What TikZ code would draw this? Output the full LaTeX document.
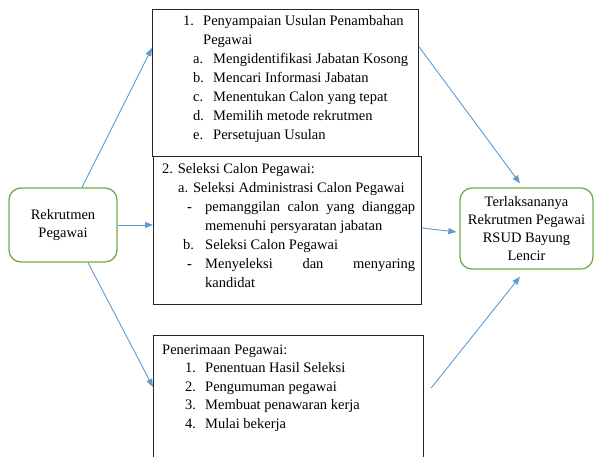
\documentclass[tikz,border=0pt]{standalone}
\usepackage{fontspec}
\setmainfont{Liberation Serif}
\usetikzlibrary{arrows.meta, calc}
\definecolor{panahbiru}{RGB}{91,155,213}
\definecolor{hijau}{RGB}{112,173,71}
\newcommand{\butir}[3]{\hspace*{#1pt}\makebox[#2pt][l]{#3}}

\begin{document}
\begin{tikzpicture}[x=1pt, y=-1pt,
  kotak/.style={draw=black!85, line width=1.2pt, inner sep=0pt, anchor=north west},
  isi/.style={align=left, inner sep=0pt, anchor=north west, font=\fontsize{14.5}{19}\selectfont},
  ujung/.style={draw=hijau, line width=1.3pt, rounded corners=12pt, align=center, inner sep=0pt, font=\fontsize{14.5}{18}\selectfont},
  panah/.style={-{Triangle[length=8pt, width=6pt]}, panahbiru, line width=0.9pt}]
\useasboundingbox (0,0) rectangle (595,457);
\clip (0,0) rectangle (595,457);

% MIDDLE: three stage boxes
\node[kotak, minimum width=266pt, minimum height=147pt] (usul) at (152,9) {};
\node[isi] (usulisi) at (162,15.5) {%
  \butir{21}{20}{1.}Penyampaian Usulan Penambahan\\
  \hspace*{41pt}Pegawai\\
  \butir{31}{20}{a.}Mengidentifikasi Jabatan Kosong\\
  \butir{31}{20}{b.}Mencari Informasi Jabatan\\
  \butir{31}{20}{c.}Menentukan Calon yang tepat\\
  \butir{31}{20}{d.}Memilih metode rekrutmen\\
  \butir{31}{20}{e.}Persetujuan Usulan};

\node[kotak, minimum width=268pt, minimum height=148pt] (seleksi) at (153,156) {};
\node[isi] (seleksiisi) at (162,163.5) {%
  2. Seleksi Calon Pegawai:\\
  \hspace*{16pt}a. Seleksi Administrasi Calon Pegawai\\
  \butir{25}{18}{\textbf{-}}\makebox[210pt][s]{pemanggilan calon yang dianggap}\\
  \hspace*{43pt}memenuhi persyaratan jabatan\\
  \butir{21}{22}{b.}Seleksi Calon Pegawai\\
  \butir{25}{18}{\textbf{-}}\makebox[210pt][s]{Menyeleksi dan menyaring}\\
  \hspace*{43pt}kandidat};

\node[kotak, minimum width=270pt, minimum height=140pt] (terima) at (153,335) {};
\node[isi, font=\fontsize{14.5}{18.5}\selectfont] (terimaisi) at (162,344.5) {%
  Penerimaan Pegawai:\\
  \butir{23}{20}{1.}Penentuan Hasil Seleksi\\
  \butir{23}{20}{2.}Pengumuman pegawai\\
  \butir{23}{20}{3.}Membuat penawaran kerja\\
  \butir{23}{20}{4.}Mulai bekerja};

% LEFT and RIGHT: start and result
\node[ujung, minimum width=108pt, minimum height=74pt] (rekrut) at (63,225) {Rekrutmen\\Pegawai};
\node[ujung, minimum width=133pt, minimum height=81pt] (hasil) at (526.5,228.5) {Terlaksananya\\Rekrutmen Pegawai\\RSUD Bayung\\Lencir};

% arrows
\draw[panah] ([xshift=19pt]rekrut.north) -- ([yshift=-39pt]usul.north west);
\draw[panah] (rekrut.east) -- (rekrut.east -| seleksi.west);
\draw[panah] ([xshift=25pt]rekrut.south) -- ([yshift=-52pt]terima.north west);
\draw[panah] ([yshift=-38pt]usul.north east) -- ([xshift=-6.5pt, yshift=4pt]hasil.north);
\draw[panah] ([yshift=-72pt]seleksi.north east) -- ([xshift=-3pt, yshift=-3.5pt]hasil.west);
\draw[panah] ([xshift=7pt, yshift=-53pt]terima.north east) -- ([xshift=-6.5pt, yshift=-7pt]hasil.south);
\end{tikzpicture}
\end{document}
